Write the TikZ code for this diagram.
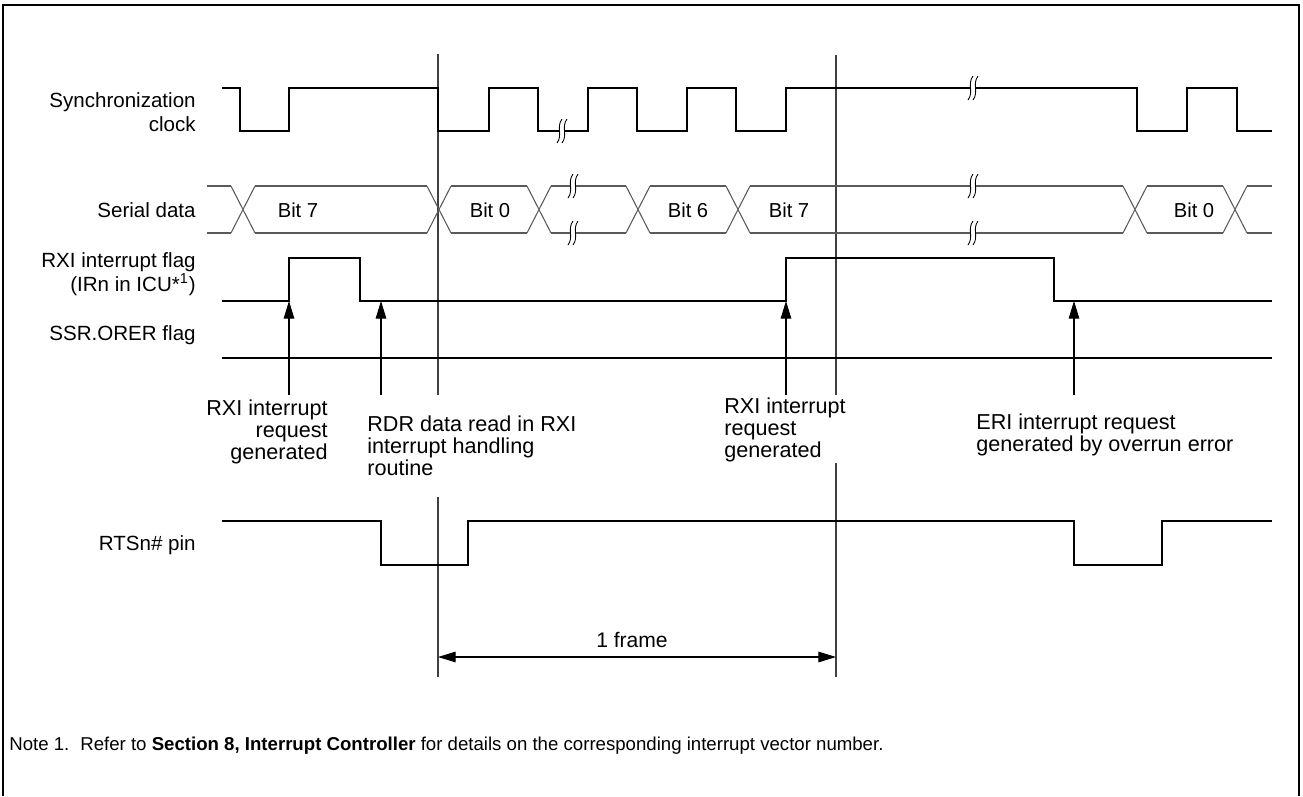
\documentclass[tikz,border=0pt]{standalone}
\usepackage{fontspec}
\setmainfont{Liberation Sans}
\usetikzlibrary{arrows.meta}
\definecolor{refGray}{HTML}{404040}
\definecolor{datGray}{HTML}{5A5A5A}

\begin{document}
\begin{tikzpicture}[x=0.02cm, y=-0.02cm, font=\fontsize{11.5}{13.5}\selectfont,
  sig/.style={line width=1.1pt},
  dat/.style={draw=datGray, line width=0.6pt},
  vline/.style={draw=refGray, line width=0.8pt},
  lbl/.style={anchor=east, align=right, inner sep=0pt, font=\fontsize{11.7}{14}\selectfont},
  ann/.style={inner sep=0pt, font=\fontsize{12.3}{12.6}\selectfont},
  upar/.style={-{Triangle[length=10pt, width=6pt]}, line width=0.6pt},
  frmar/.style={{Triangle[length=10pt, width=6pt]}-{Triangle[length=10pt, width=6pt]}, line width=0.6pt},
  brk/.pic={
    \fill[white] (0,-12) .. controls (-6,-4) and (1,4) .. (-5,12) -- (0,12) .. controls (6,4) and (-1,-4) .. (5,-12) -- cycle;
    \draw[line width=0.5pt] (0,-12) .. controls (-6,-4) and (1,4) .. (-5,12) (5,-12) .. controls (-1,-4) and (6,4) .. (0,12);
  }]
\path[fill=white, use as bounding box] (0,0) rectangle (1303,796);
\draw[line width=1.4pt] (3,796) -- (3,5) -- (1299,5) -- (1299,796);

\node[lbl] (lSync) at (196,112) {Synchronization\\clock};
\node[lbl] (lSer) at (196,210) {Serial data};
\node[lbl] (lRxi) at (196,274) {RXI interrupt flag\\(IRn in ICU*\textsuperscript{1})};
\node[lbl] (lOrer) at (196,335) {SSR.ORER flag};
\node[lbl] (lRts) at (196,545) {RTSn\# pin};

\draw[vline] (438,54) -- (438,395) (438,497) -- (438,677);
\draw[vline] (836,55) -- (836,395) (836,463) -- (836,677);

\draw[sig] (222,88) -| (240,131) -| (289,88) -| (438,131) -| (489,88) -| (538,131) -| (588,88)
  -| (637,131) -| (687,88) -| (736,131) -| (786,88) -| (1137,131) -| (1187,88) -| (1237,131) -- (1272,131);

\foreach \a/\b in {207/231, 255/427, 451/527, 551/626, 650/726, 750/1123, 1147/1223, 1247/1272}
  \draw[dat] (\a,186) -- (\b,186) (\a,233) -- (\b,233);
\foreach \c in {243, 439, 539, 638, 738, 1135, 1235}
  \draw[dat] (\c-12,186) -- (\c+12,233) (\c-12,233) -- (\c+12,186);
\node (b7a) at (298,210) {Bit 7};
\node (b0a) at (490,210) {Bit 0};
\node (b6) at (688,210) {Bit 6};
\node (b7b) at (789,210) {Bit 7};
\node (b0b) at (1194,210) {Bit 0};

\draw[sig] (222,301) -| (289,258) -| (360,301) -| (786,258) -| (1054,301) -- (1272,301);
\draw[sig] (222,358) -- (1272,358);
\draw[sig] (222,521) -| (381,565) -| (468,521) -| (1074,565) -| (1162,521) -- (1272,521);

\pic at (562,131) {brk};
\pic at (973,88) {brk};
\pic at (573,186) {brk};
\pic at (573,233) {brk};
\pic at (973,186) {brk};
\pic at (973,233) {brk};

\foreach \x [count=\i] in {289, 381, 786, 1074} {
  \coordinate (r\i) at (\x,395);
  \coordinate (f\i) at (\x,301);
  \draw[upar] (r\i) -- (f\i);
}

\node[ann, anchor=east, align=right] (aReq) at (328,432) {RXI interrupt\\request\\generated};
\node[ann, anchor=west, align=left] (aRdr) at (367,446) {RDR data read in RXI\\interrupt handling\\routine};
\node[ann, anchor=west, align=left] (aReqB) at (724,430) {RXI interrupt\\request\\generated};
\node[ann, anchor=west, align=left] (aEri) at (976,435) {ERI interrupt request\\generated by overrun error};

\coordinate (F1) at (438,657);
\coordinate (F2) at (836,657);
\draw[frmar] (F1) -- (F2);
\node[inner sep=0pt, font=\fontsize{12}{14}\selectfont] (frm) at (632,640) {1 frame};

\node[anchor=west, inner sep=0pt, font=\fontsize{10.6}{13}\selectfont] (note) at (9,746) {\makebox[1.42cm][l]{Note 1.}Refer to \textbf{Section 8, Interrupt Controller} for details on the corresponding interrupt vector number.};
\end{tikzpicture}
\end{document}
